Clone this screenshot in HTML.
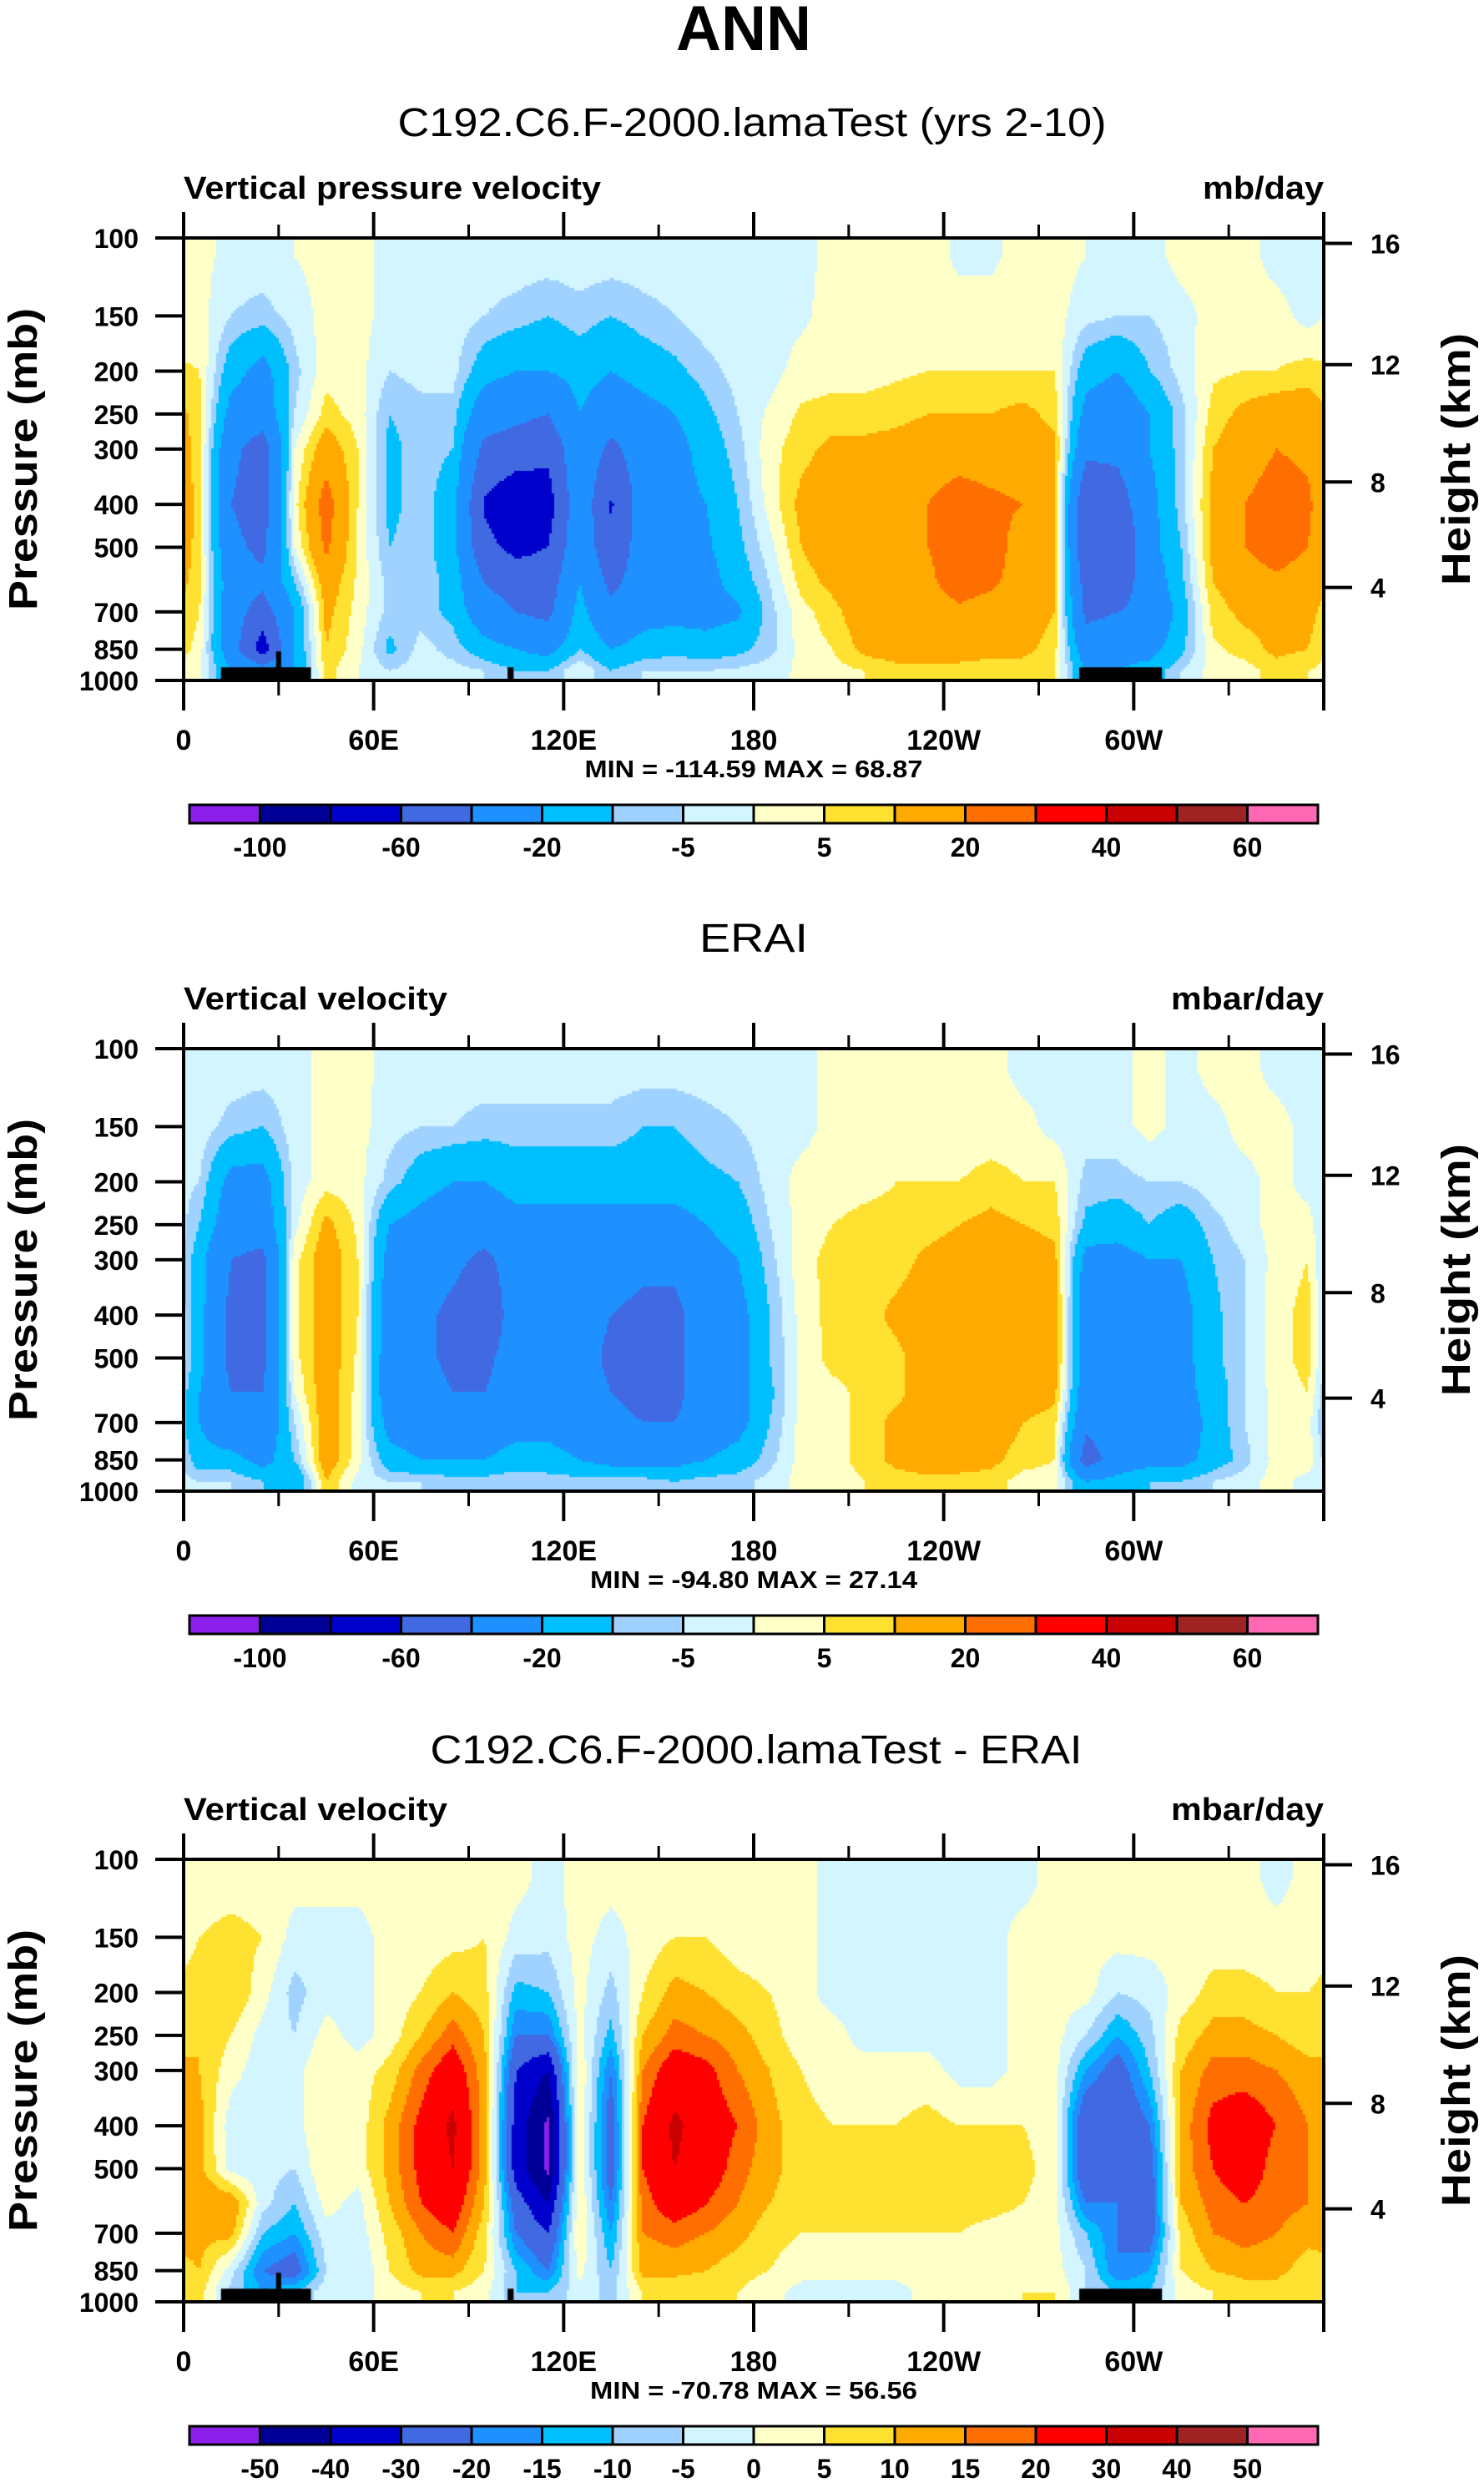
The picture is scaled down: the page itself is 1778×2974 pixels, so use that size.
<!DOCTYPE html>
<html><head><meta charset="utf-8"><title>ANN vertical velocity</title>
<style>
html,body{margin:0;padding:0;background:#fff;}
#wrap{position:relative;width:1778px;height:2974px;overflow:hidden;background:#fff;}
canvas{position:absolute;}
svg{position:absolute;left:0;top:0;}
text{font-family:"Liberation Sans",sans-serif;fill:#000;}
.b{font-weight:bold;}
</style></head>
<body>
<div id="wrap">
<canvas id="c0" width="1366" height="530" style="left:220px;top:285px"></canvas>
<canvas id="c1" width="1366" height="530" style="left:220px;top:1256px"></canvas>
<canvas id="c2" width="1366" height="530" style="left:220px;top:2227px"></canvas>
<svg id="svg" width="1778" height="2974" xmlns="http://www.w3.org/2000/svg">
<text class="b" x="891" y="60" font-size="76" text-anchor="middle" textLength="162" lengthAdjust="spacingAndGlyphs">ANN</text>
<text x="901" y="163" font-size="48" text-anchor="middle" textLength="849" lengthAdjust="spacingAndGlyphs">C192.C6.F-2000.lamaTest (yrs 2-10)</text>
<text x="903" y="1140" font-size="48" text-anchor="middle" textLength="130" lengthAdjust="spacingAndGlyphs">ERAI</text>
<text x="906" y="2112" font-size="48" text-anchor="middle" textLength="781" lengthAdjust="spacingAndGlyphs">C192.C6.F-2000.lamaTest - ERAI</text>
</svg>
</div>
<script>
// ---------- data ----------
const LON_CENTERS = [5,15,25,35,45,55,65,75,85,95,105,115,125,135,145,155,165,175,185,195,205,215,225,235,245,255,265,275,285,295,305,315,325,335,345,355];
const PLEV = [110,150,200,250,300,400,500,600,700,850,950];
// model (mb/day), one array per 10-degree column, values at PLEV
const modelCols = [
[2,2,5,7,7,7,7,7,5,3,2],[-2,-5,-15,-25,-35,-40,-35,-30,-30,-30,-20],[-2,-7,-25,-30,-50,-50,-45,-35,-50,-70,-30],[0,-3,-7,-5,0,3,0,-10,-20,-20,-20],
[2,2,3,7,15,25,22,15,12,10,7],[2,2,2,3,5,5,4,4,3,2,0],[-2,-2,-5,-10,-12,-12,-10,-7,-7,-12,-5],[-2,-2,-3,-7,-7,-7,-7,-7,-7,-3,-2],
[-2,-2,-3,-7,-10,-15,-15,-12,-12,-7,-3],[-2,-5,-15,-30,-45,-62,-55,-40,-30,-15,-5],[-2,-7,-20,-35,-50,-75,-65,-50,-40,-20,-10],[-2,-10,-20,-40,-55,-70,-60,-50,-45,-25,-10],
[-2,-7,-15,-20,-25,-25,-25,-20,-15,-10,0],[-2,-10,-20,-30,-45,-62,-55,-45,-35,-20,-10],[-2,-7,-15,-25,-30,-30,-30,-30,-25,-15,-5],[-2,-5,-12,-20,-25,-25,-25,-25,-25,-12,-5],
[-2,-2,-7,-12,-15,-20,-22,-25,-25,-15,-5],[-2,-2,-3,-5,-7,-10,-12,-15,-22,-12,-4],[-2,-2,-2,1,3,2,-2,-5,-7,-7,-2],[-2,-1,2,6,8,12,10,7,3,2,1],
[2,2,3,7,12,15,15,12,8,5,3],[2,2,3,7,12,15,15,15,15,12,5],[2,2,4,8,13,15,15,15,15,15,7],[2,2,5,10,15,20,20,18,15,15,7],
[-1,2,5,10,15,25,25,25,18,15,7],[-1,2,5,10,15,22,25,22,15,12,7],[2,2,5,12,15,20,15,15,15,12,7],[2,2,5,8,12,12,12,12,10,7,5],
[0,-3,-15,-25,-35,-60,-60,-50,-45,-30,-20],[-2,-5,-20,-30,-35,-50,-60,-50,-40,-25,-20],[-2,-5,-10,-20,-20,-25,-25,-30,-35,-25,-15],[2,-2,-3,-7,-7,-7,-10,-12,-15,-12,-5],
[2,2,4,7,10,12,12,10,7,4,2],[2,2,5,12,15,20,20,15,12,7,3],[-2,2,5,15,20,25,25,18,12,12,7],[-2,-2,7,15,18,22,20,15,12,10,5]
];
// ERAI (mbar/day)
const eraiCols = [
[-2,-2,-5,-10,-15,-15,-15,-20,-20,-15,-5],[-2,-7,-25,-30,-40,-45,-45,-40,-35,-15,-5],[-2,-10,-25,-30,-45,-45,-45,-40,-35,-25,-10],[-2,-2,-3,-2,3,3,3,0,-5,-10,-20],
[2,2,3,12,15,15,15,15,15,15,10],[2,2,2,4,5,5,4,3,2,2,-2],[-2,-3,-7,-20,-25,-30,-30,-30,-25,-15,-5],[-2,-5,-15,-25,-30,-35,-35,-30,-30,-20,-5],
[-2,-5,-20,-30,-35,-45,-45,-40,-30,-20,-7],[-2,-7,-20,-30,-45,-55,-45,-40,-30,-20,-7],[-2,-7,-15,-25,-30,-30,-30,-30,-25,-15,-5],[-2,-7,-15,-25,-30,-30,-30,-30,-25,-15,-7],
[-2,-7,-15,-25,-30,-30,-30,-30,-30,-20,-7],[-2,-7,-15,-25,-30,-40,-45,-40,-35,-25,-7],[-2,-10,-15,-25,-35,-45,-45,-45,-40,-25,-7],[-2,-10,-15,-25,-35,-45,-45,-45,-40,-25,-10],
[-2,-7,-12,-20,-25,-30,-30,-30,-30,-20,-7],[-2,-5,-10,-15,-20,-25,-25,-25,-25,-15,-7],[-2,-2,-3,-5,-7,-10,-10,-12,-10,-7,-3],[-2,-2,2,2,3,2,1,2,2,2,2],
[2,2,2,5,7,7,7,3,3,3,2],[2,2,3,7,7,7,7,7,7,7,5],[2,2,5,7,7,12,8,8,12,12,7],[2,2,5,7,12,15,15,15,15,15,8],
[2,2,5,10,15,15,15,15,15,15,7],[2,2,7,12,15,15,15,15,15,12,7],[-2,2,5,10,15,15,15,15,10,7,3],[-2,-2,5,8,12,15,15,12,7,5,3],
[-2,-2,-7,-12,-25,-30,-30,-30,-35,-50,-20],[-2,-2,-7,-15,-25,-35,-30,-30,-30,-30,-15],[2,2,-5,-10,-20,-20,-25,-25,-30,-25,-10],[-2,-2,-5,-15,-20,-25,-25,-25,-30,-25,-10],
[2,-2,-2,-7,-10,-12,-12,-15,-15,-15,-5],[2,2,-2,-2,-5,-5,-5,-5,-5,-7,-2],[-2,2,2,2,2,3,3,2,2,2,2],[-2,-2,-2,2,5,7,7,5,2,3,-2]
];
// difference (mbar/day)
const diffCols = [
[2,5,7,10,10,12,12,15,12,10,7],[2,7,10,5,2,-3,-2,15,12,-3,-7],[2,5,2,-2,-3,-5,-3,-3,-10,-20,-15],[2,-2,-7,-5,-2,-2,-5,-10,-15,-25,-10],
[2,-2,-2,2,5,5,5,2,-2,-5,-2],[2,-2,-2,-2,2,2,2,-2,-3,-5,-2],[2,2,2,2,7,12,12,10,7,5,2],[2,2,5,10,17,22,22,20,15,12,5],
[2,3,10,18,25,32,30,25,20,12,5],[2,5,7,10,12,12,12,10,7,5,2],[2,-2,-12,-20,-30,-35,-35,-25,-20,-10,-10],[-2,-3,-10,-20,-40,-52,-52,-40,-30,-20,-10],
[2,2,2,2,5,5,5,5,5,2,-2],[2,-2,-7,-12,-20,-25,-25,-20,-15,-10,-7],[2,2,5,10,15,20,20,17,15,12,5],[2,5,12,17,25,32,30,25,17,12,5],
[2,5,10,15,22,25,25,20,15,10,5],[2,2,7,12,15,20,17,15,12,7,5],[2,2,5,7,10,12,12,10,7,5,2],[2,2,2,2,5,7,7,7,5,2,-2],
[-2,-2,-2,2,2,5,7,7,5,2,-2],[-2,-2,-2,-2,2,5,7,7,5,2,-2],[-2,-2,-2,-2,2,5,7,7,5,2,-2],[-2,-2,-2,-2,2,7,7,7,5,2,2],
[-2,-2,-2,-2,-2,5,7,7,5,2,2],[-2,-2,-2,-2,-2,5,7,7,3,2,2],[-2,2,2,2,2,5,7,5,2,2,5],[2,2,2,2,2,2,2,2,2,2,5],
[2,2,2,-5,-15,-30,-30,-20,-10,-5,-5],[2,2,-5,-15,-25,-30,-25,-20,-20,-20,-10],[2,2,-3,-7,-10,-20,-25,-25,-25,-15,-10],[2,2,2,7,10,12,12,10,7,5,2],
[2,2,7,12,17,22,20,17,15,10,5],[2,2,7,12,17,25,25,20,17,12,7],[-2,2,5,10,15,20,17,17,15,12,7],[2,2,5,7,12,15,15,15,12,7,5]
];
// colour-bar levels and colours
const LEVELS_FULL = [-100,-80,-60,-40,-20,-10,-5,0,5,10,20,30,40,50,60];
const LABELS_FULL = ["-100","","-60","","-20","","-5","","5","","20","","40","","60"];
const LEVELS_DIFF = [-50,-40,-30,-20,-15,-10,-5,0,5,10,15,20,30,40,50];
const LABELS_DIFF = ["-50","-40","-30","-20","-15","-10","-5","0","5","10","15","20","30","40","50"];
const COLORS = ["#8A20EA","#000096","#0000CD","#4169E1","#1E90FF","#00BFFF","#A0D2FF","#D2F5FF","#FFFFC8","#FFE132","#FFAA00","#FF6E00","#FF0000","#C80000","#A02323","#FF69B4"];
// axis ticks
const XMAJOR = [0,60,120,180,240,300,360];
const XLABELS = ["0","60E","120E","180","120W","60W",""];
const XMINOR = [30,90,150,210,270,330];
const PTICKS = [100,150,200,250,300,400,500,700,850,1000];
const ZTICKS = [4,8,12,16];
// land mask (lon0, lon1, top pressure)
const LAND_LON0 = [11.8,29.2,102.3,282.8];
const LAND_LON1 = [40.2,30.8,104.2,308.9];
const LAND_PTOP = [934,860,934,934];
// panel texts
const MINMAX = ["MIN = -114.59  MAX =  68.87","MIN = -94.80  MAX = 27.14","MIN = -70.78  MAX = 56.56"];
const LEFT_TITLES = ["Vertical pressure velocity","Vertical velocity","Vertical velocity"];
const RIGHT_TITLES = ["mb/day","mbar/day","mbar/day"];

// ---------- geometry ----------
const L = 220, W = 1366, H = 530;
const TOPS = [285,1256,2227];
const BAR_TOPS = [964,1935,2906];
function xOf(lon){ return L + lon/360*W; }
function yRel(p){ return Math.log10(p/100)*H; }
function pFromZ(zkm){ const z=zkm*1000; return z<=11000 ? 1013.25*Math.pow(1-2.25577e-5*z,5.25588) : 226.32*Math.exp(-(z-11000)/6341.6); }
function binIndex(v, levels){ let i=0; while(i<levels.length && v>=levels[i]) i++; return i; }
function sample(cols, lon, p){
  let f=(lon-5)/10; let fi=Math.floor(f); let t=f-fi;
  const i0=((fi%36)+36)%36, i1=(i0+1)%36;
  const lp=Math.log10(p); const lv=PLEV.map(Math.log10);
  let r=0, s=0;
  if(lp<=lv[0]){r=0;s=0;} else if(lp>=lv[lv.length-1]){r=lv.length-2;s=1;}
  else { while(lp>lv[r+1]) r++; s=(lp-lv[r])/(lv[r+1]-lv[r]); }
  const a=cols[i0][r]*(1-s)+cols[i0][r+1]*s;
  const b=cols[i1][r]*(1-s)+cols[i1][r+1]*s;
  return a*(1-t)+b*t;
}
function drawField(id, cols, levels, land){
  const ctx=document.getElementById(id).getContext('2d');
  const st=3;
  for(let px=0; px<W; px+=st){
    const lon=(px+st/2)/W*360;
    for(let py=0; py<H; py+=st){
      const p=100*Math.pow(10,(py+st/2)/H);
      ctx.fillStyle=COLORS[binIndex(sample(cols,lon,p),levels)];
      ctx.fillRect(px,py,st,st);
    }
  }
  if(land){
    ctx.fillStyle="#000";
    for(let k=0;k<LAND_LON0.length;k++){
      const x0=xOf(LAND_LON0[k])-L, x1=xOf(LAND_LON1[k])-L, y0=yRel(LAND_PTOP[k]);
      ctx.fillRect(x0,y0,x1-x0,H-y0);
    }
  }
}
drawField('c0', modelCols, LEVELS_FULL, true);
drawField('c1', eraiCols, LEVELS_FULL, false);
drawField('c2', diffCols, LEVELS_DIFF, true);

// ---------- svg axes ----------
const NS="http://www.w3.org/2000/svg";
const svg=document.getElementById('svg');
function mk(tag, attrs, parent){ const e=document.createElementNS(NS,tag); for(const k in attrs) e.setAttribute(k,attrs[k]); (parent||svg).appendChild(e); return e; }
for(let k=0;k<3;k++){
  const T=TOPS[k];
  const g=mk('g',{});
  
  
  const fr=mk('rect',{x:L,y:T,width:W,height:H,fill:'none',stroke:'#000','stroke-width':4},g);
  
  
  XMAJOR.forEach((lon,i)=>{
    const x=xOf(lon);
    const t1=mk('line',{x1:x,x2:x,y1:T,y2:T-31,stroke:'#000','stroke-width':4},g);
    
    
    const t2=mk('line',{x1:x,x2:x,y1:T+H,y2:T+H+36,stroke:'#000','stroke-width':4},g);
    
    
    if(XLABELS[i]){
      const tx=mk('text',{x:x,y:T+H+83,'font-size':34,'text-anchor':'middle','class':'b'},g);
      tx.textContent=XLABELS[i];
      
      
    }
  });
  XMINOR.forEach(lon=>{
    const x=xOf(lon);
    const t1=mk('line',{x1:x,x2:x,y1:T,y2:T-16,stroke:'#000','stroke-width':3},g);
    
    
    const t2=mk('line',{x1:x,x2:x,y1:T+H,y2:T+H+18,stroke:'#000','stroke-width':3},g);
    
    
  });
  PTICKS.forEach(p=>{
    const y=T+yRel(p);
    const tk=mk('line',{x1:L,x2:L-34,y1:y,y2:y,stroke:'#000','stroke-width':4},g);
    
    
    const tx=mk('text',{x:166,y:y+12,'font-size':32,'text-anchor':'end','class':'b'},g);
    tx.textContent=String(p);
    
    
  });
  ZTICKS.forEach(z=>{
    const y=T+yRel(pFromZ(z));
    const tk=mk('line',{x1:L+W,x2:L+W+34,y1:y,y2:y,stroke:'#000','stroke-width':4},g);
    
    
    const tx=mk('text',{x:1642,y:y+12,'font-size':32,'class':'b'},g);
    tx.textContent=String(z);
    
    
  });
  const yl=mk('text',{x:0,y:0,'font-size':48,'text-anchor':'middle','class':'b',transform:'translate(44,'+(T+H/2)+') rotate(-90)',textLength:362,lengthAdjust:'spacingAndGlyphs'},g);
  yl.textContent='Pressure (mb)';
  
  
  const yr=mk('text',{x:0,y:0,'font-size':48,'text-anchor':'middle','class':'b',transform:'translate(1761,'+(T+H/2)+') rotate(-90)',textLength:302,lengthAdjust:'spacingAndGlyphs'},g);
  yr.textContent='Height (km)';
  
  
  const lt=mk('text',{x:L,y:T-47,'font-size':38,'class':'b',textLength:(k==0?500:316),lengthAdjust:'spacingAndGlyphs'},g);
  lt.textContent=LEFT_TITLES[k];
  
  
  const rt=mk('text',{x:L+W,y:T-47,'font-size':38,'class':'b','text-anchor':'end',textLength:(k==0?145:183),lengthAdjust:'spacingAndGlyphs'},g);
  rt.textContent=RIGHT_TITLES[k];
  
  
  const mm=mk('text',{x:903,y:T+H+116,'font-size':29,'class':'b','text-anchor':'middle',textLength:(k==0?405:392),lengthAdjust:'spacingAndGlyphs'},g);
  mm.textContent=MINMAX[k];
  
  
  // colour bar
  const BT=BAR_TOPS[k], BL=227, BW=1352, BH=22, n=COLORS.length, bw=BW/n;
  const cb=mk('g',{},g);
  
  
  COLORS.forEach((c,i)=>{
    const r=mk('rect',{x:BL+i*bw,y:BT,width:bw,height:BH,fill:c,stroke:'#000','stroke-width':3},cb);
    
    
  });
  const labs = k==2 ? LABELS_DIFF : LABELS_FULL;
  labs.forEach((s,i)=>{
    if(!s) return;
    const tx=mk('text',{x:BL+(i+1)*bw,y:BT+BH+40,'font-size':32,'class':'b','text-anchor':'middle'},cb);
    tx.textContent=s;
    
    
  });
}
</script>
</body></html>
